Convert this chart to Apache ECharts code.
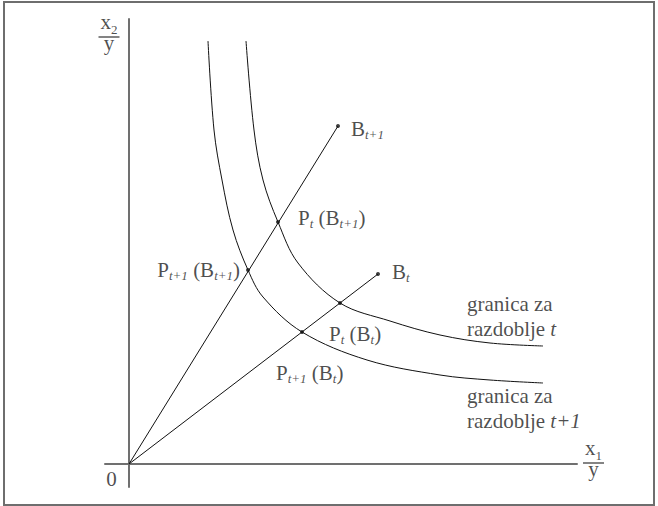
<!DOCTYPE html>
<html>
<head>
<meta charset="utf-8">
<script src="https://cdn.jsdelivr.net/npm/echarts@6/dist/echarts.min.js"></script>
<style>
html,body{margin:0;padding:0;background:#fff;}
#chart{width:658px;height:506px;}
</style>
</head>
<body>
<div id="chart"></div>
<script>
// ---- data (abstract units) ----
const frontierT = [[117,423],[125,334],[134,284],[149,242],[169,201],[211,161],[261,143],[311,129],[361,121],[414,118]];
const frontierT1 = [[79,423],[85,334],[93,284],[104,234],[119,194],[134,167],[173,132],[238,104],[311,89],[361,84],[414,81]];
const origin = [0, 0];
const pointBt1 = [209, 338];
const pointBt = [249, 190];
const pointPtBt1 = [149, 242];
const pointPt1Bt1 = [119, 194];
const pointPtBt = [211, 161];
const pointPt1Bt = [173, 132];
const xRange = [-24, 448];
const yRange = [-23, 445];

const F = '"Liberation Serif", "Times New Roman", serif';
const C = '#1e1e1e';
const rich = {
  n: {fontFamily: F, fontSize: 21, lineHeight: 24, color: C},
  s: {fontFamily: F, fontSize: 13, fontStyle: 'italic', lineHeight: 12, verticalAlign: 'bottom', color: C},
  g: {fontFamily: F, fontSize: 21, lineHeight: 25, color: C},
  gi: {fontFamily: F, fontSize: 21, fontStyle: 'italic', lineHeight: 25, color: C},
  fx: {fontFamily: F, fontSize: 21, lineHeight: 28, color: C},
  fs: {fontFamily: F, fontSize: 13, lineHeight: 14, verticalAlign: 'bottom', color: C},
  bar: {fontSize: 1, width: 21, height: 1.5, lineHeight: 2, backgroundColor: '#333'},
  fy: {fontFamily: F, fontSize: 21, lineHeight: 10, color: C}
};

function lbl(formatter, align, offset, va) {
  return {show: true, position: 'inside', align: align, verticalAlign: va || 'middle',
          offset: offset, formatter: formatter, rich: rich};
}

const dots = [
  {value: pointBt1, label: lbl('{n|B}{s|t+1}', 'left', [13, 3])},
  {value: pointBt, label: lbl('{n|B}{s|t}', 'left', [14, -2])},
  {value: pointPtBt1, label: lbl('{n|P}{s|t}{n| (B}{s|t+1}{n|)}', 'left', [20, -4])},
  {value: pointPt1Bt1, label: lbl('{n|P}{s|t+1}{n| (B}{s|t+1}{n|)}', 'right', [-8, 0])},
  {value: pointPtBt, label: lbl('{n|P}{s|t}{n| (B}{s|t}{n|)}', 'left', [-11, 31])},
  {value: pointPt1Bt, label: lbl('{n|P}{s|t+1}{n| (B}{s|t}{n|)}', 'left', [-26, 41])}
];

const anchors = [
  {value: frontierT[frontierT.length - 1], label: lbl('{g|granica za}\n{g|razdoblje }{gi|t}', 'left', [-76, -30])},
  {value: frontierT1[frontierT1.length - 1], label: lbl('{g|granica za}\n{g|razdoblje }{gi|t+1}', 'left', [-76, 25.5])},
  {value: origin, label: lbl('{n|0}', 'center', [-17.5, 14.5])},
  {value: [0, yRange[1]], label: lbl('{fx|x}{fs|2}\n{bar| }\n{fy|y}', 'center', [-20, -11], 'top')},
  {value: [xRange[1], 0], label: lbl('{fx|x}{fs|1}\n{bar| }\n{fy|y}', 'center', [16.5, -30], 'top')}
];

const lineStyle = {color: '#111', width: 1};

const chart = echarts.init(document.getElementById('chart'), null, {renderer: 'svg'});
chart.setOption({
  animation: false,
  backgroundColor: '#fff',
  grid: {left: 105, right: 81, top: 19, bottom: 19, containLabel: false},
  xAxis: {type: 'value', min: xRange[0], max: xRange[1],
    axisLine: {show: true, onZero: true, lineStyle: {color: '#707070', width: 2}},
    axisTick: {show: false}, axisLabel: {show: false}, splitLine: {show: false}},
  yAxis: {type: 'value', min: yRange[0], max: yRange[1],
    axisLine: {show: true, onZero: true, lineStyle: {color: '#707070', width: 2}},
    axisTick: {show: false}, axisLabel: {show: false}, splitLine: {show: false}},
  graphic: [{type: 'rect', shape: {x: 4, y: 2, width: 650, height: 503},
    style: {fill: 'none', stroke: '#6e6e6e', lineWidth: 2}, silent: true}],
  series: [
    {type: 'line', data: frontierT, smooth: 0.35, showSymbol: false, lineStyle: lineStyle, silent: true, clip: false},
    {type: 'line', data: frontierT1, smooth: 0.35, showSymbol: false, lineStyle: lineStyle, silent: true, clip: false},
    {type: 'line', data: [origin, pointBt1], showSymbol: false, lineStyle: lineStyle, silent: true},
    {type: 'line', data: [origin, pointBt], showSymbol: false, lineStyle: lineStyle, silent: true},
    {type: 'scatter', data: dots, symbolSize: 4, itemStyle: {color: '#111'}, silent: true, z: 5},
    {type: 'scatter', data: anchors, symbolSize: 0, itemStyle: {color: 'transparent'}, silent: true, clip: false, z: 5}
  ]
});
</script>
</body>
</html>
